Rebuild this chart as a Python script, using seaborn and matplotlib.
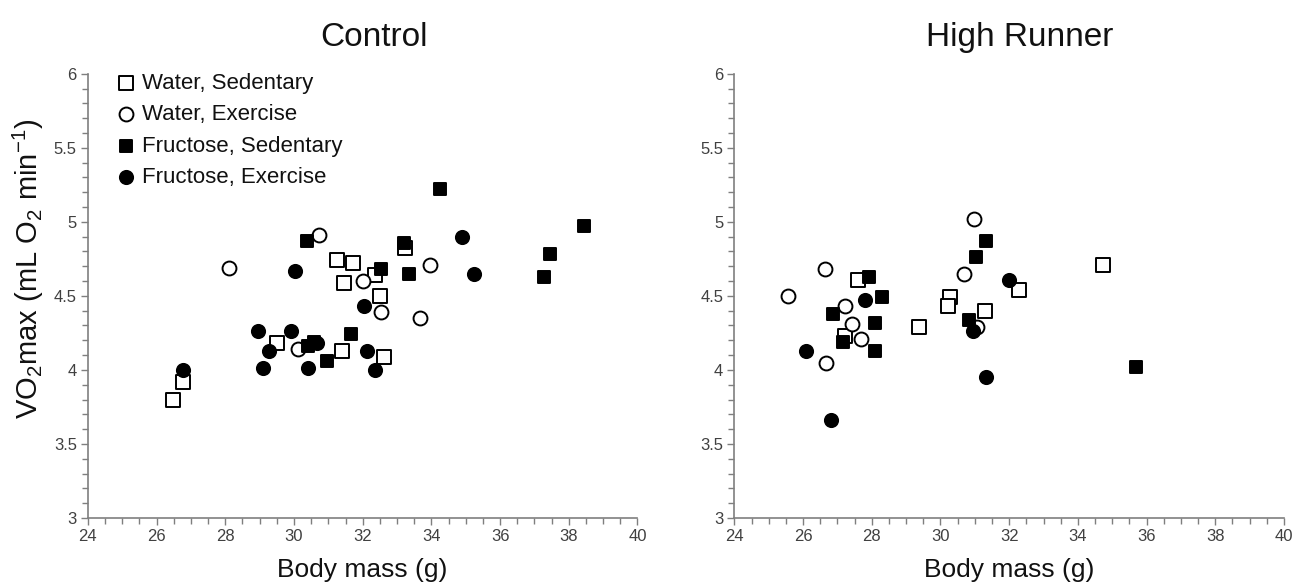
import numpy as np
import pandas as pd
import matplotlib
matplotlib.use('Agg')
import matplotlib.pyplot as plt
from matplotlib.ticker import MultipleLocator, FuncFormatter
import seaborn as sns

sns.set_theme(style='white')
plt.rcParams['font.family'] = ['Liberation Sans', 'DejaVu Sans']
plt.rcParams['mathtext.fontset'] = 'custom'
plt.rcParams['mathtext.rm'] = 'Liberation Sans'
plt.rcParams['mathtext.it'] = 'Liberation Sans:italic'
plt.rcParams['mathtext.default'] = 'regular'

groups = ['Water, Sedentary', 'Water, Exercise', 'Fructose, Sedentary', 'Fructose, Exercise']

# Control panel
ctrl_ws_mass = [26.49, 26.78, 29.51, 31.40, 32.62, 31.24, 31.73, 31.45, 32.37, 32.49, 33.23]
ctrl_ws_vo2 = [3.80, 3.92, 4.18, 4.13, 4.09, 4.74, 4.72, 4.59, 4.64, 4.50, 4.82]
ctrl_we_mass = [28.11, 30.74, 32.00, 32.52, 33.96, 33.67, 30.12]
ctrl_we_vo2 = [4.69, 4.91, 4.60, 4.39, 4.71, 4.35, 4.14]
ctrl_fs_mass = [30.37, 34.24, 33.20, 33.36, 32.52, 30.57, 30.42, 30.95, 31.65, 38.44, 37.46, 37.29]
ctrl_fs_vo2 = [4.87, 5.22, 4.86, 4.65, 4.68, 4.19, 4.16, 4.06, 4.24, 4.97, 4.78, 4.63]
ctrl_fe_mass = [26.76, 28.96, 29.90, 29.27, 29.10, 30.42, 32.14, 32.36, 30.66, 30.03, 34.90, 35.25, 32.05]
ctrl_fe_vo2 = [4.00, 4.26, 4.26, 4.13, 4.01, 4.01, 4.13, 4.00, 4.18, 4.67, 4.90, 4.65, 4.43]

# High Runner panel
hr_ws_mass = [27.60, 27.23, 29.38, 30.28, 30.23, 31.30, 32.29, 34.72]
hr_ws_vo2 = [4.61, 4.23, 4.29, 4.49, 4.43, 4.40, 4.54, 4.71]
hr_we_mass = [25.55, 26.63, 26.67, 27.23, 27.42, 27.68, 30.99, 30.67, 31.07]
hr_we_vo2 = [4.50, 4.68, 4.05, 4.43, 4.31, 4.21, 5.02, 4.65, 4.29]
hr_fs_mass = [27.93, 28.31, 26.86, 28.08, 27.16, 28.10, 31.32, 31.04, 30.84, 35.68]
hr_fs_vo2 = [4.63, 4.49, 4.38, 4.32, 4.19, 4.13, 4.87, 4.76, 4.34, 4.02]
hr_fe_mass = [26.08, 26.82, 27.79, 30.96, 31.33, 32.00]
hr_fe_vo2 = [4.13, 3.66, 4.47, 4.26, 3.95, 4.61]


def make_df(series):
    rows = []
    for g, (m, v) in zip(groups, series):
        for a, b in zip(m, v):
            rows.append({'group': g, 'mass': a, 'vo2': b})
    return pd.DataFrame(rows)


df_ctrl = make_df([(ctrl_ws_mass, ctrl_ws_vo2), (ctrl_we_mass, ctrl_we_vo2),
                   (ctrl_fs_mass, ctrl_fs_vo2), (ctrl_fe_mass, ctrl_fe_vo2)])
df_hr = make_df([(hr_ws_mass, hr_ws_vo2), (hr_we_mass, hr_we_vo2),
                 (hr_fs_mass, hr_fs_vo2), (hr_fe_mass, hr_fe_vo2)])

styles = {
    'Water, Sedentary': dict(marker='s', facecolor='white', s=90),
    'Water, Exercise': dict(marker='o', facecolor='white', s=100),
    'Fructose, Sedentary': dict(marker='s', facecolor='black', s=80),
    'Fructose, Exercise': dict(marker='o', facecolor='black', s=90),
}

fig = plt.figure(figsize=(12.93, 5.83), dpi=100)
ax1 = fig.add_axes([0.068, 0.1115, 0.425, 0.762])
ax2 = fig.add_axes([0.568, 0.1115, 0.425, 0.762])

axis_grey = '#7f7f7f'
text_grey = '#404040'

for ax, df, title in [(ax1, df_ctrl, 'Control'), (ax2, df_hr, 'High Runner')]:
    for g in groups:
        st = styles[g]
        sns.scatterplot(data=df[df['group'] == g], x='mass', y='vo2', ax=ax,
                        marker=st['marker'], s=st['s'], facecolor=st['facecolor'],
                        edgecolor='black', linewidth=1.4, label=g, legend=False, zorder=3)
    ax.set_xlim(24, 40)
    ax.set_ylim(3, 6)
    ax.xaxis.set_major_locator(MultipleLocator(2))
    ax.xaxis.set_minor_locator(MultipleLocator(0.5))
    ax.yaxis.set_major_locator(MultipleLocator(0.5))
    ax.yaxis.set_minor_locator(MultipleLocator(0.1))
    ax.yaxis.set_major_formatter(FuncFormatter(lambda v, p: f'{v:g}'))
    ax.tick_params(which='both', direction='out', color=axis_grey, width=1,
                   bottom=True, left=True, labelsize=12, labelcolor=text_grey)
    ax.tick_params(which='major', length=5, pad=3)
    ax.tick_params(which='minor', length=4)
    for sp in ['top', 'right']:
        ax.spines[sp].set_visible(False)
    for sp in ['left', 'bottom']:
        ax.spines[sp].set_color(axis_grey)
        ax.spines[sp].set_linewidth(1.2)
    ax.set_title(title, fontsize=24, pad=20, color='#111111', x=0.52)
    ax.set_xlabel('Body mass (g)', fontsize=19, labelpad=10, color='#111111')
    ax.set_ylabel('')

ax1.set_ylabel(r'VO$_2$max (mL O$_2$ min$^{-1}$)', fontsize=21, labelpad=4, color='#111111')
ax1.yaxis.set_label_coords(-0.076, 0.56)

leg = ax1.legend(loc='upper left', bbox_to_anchor=(0.054, 1.002), frameon=False,
                 fontsize=16, handletextpad=0.28, handlelength=0.8, labelspacing=0.47,
                 markerscale=1.0, borderaxespad=0, borderpad=0)
for t in leg.get_texts():
    t.set_color('#111111')

fig.savefig('out.png', dpi=100)
